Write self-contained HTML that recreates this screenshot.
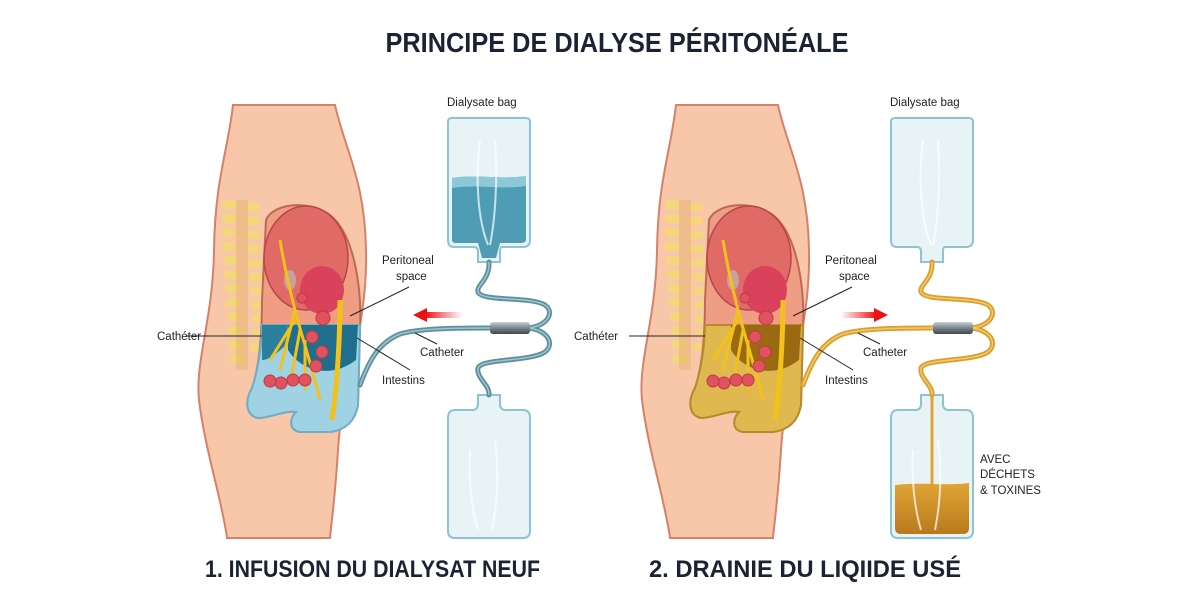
<!DOCTYPE html>
<html><head><meta charset="utf-8"><style>
html,body{margin:0;padding:0;background:#fff;}
svg{display:block;}
text{font-family:"Liberation Sans",sans-serif;}
</style></head><body>
<svg width="1200" height="600" viewBox="0 0 1200 600" xmlns="http://www.w3.org/2000/svg">
<defs>
<linearGradient id="redL" x1="1" x2="0"><stop offset="0" stop-color="#e22" stop-opacity="0"/><stop offset="1" stop-color="#e11"/></linearGradient>
<linearGradient id="redR" x1="0" x2="1"><stop offset="0" stop-color="#e22" stop-opacity="0"/><stop offset="1" stop-color="#e11"/></linearGradient>
<linearGradient id="conn" x1="0" y1="0" x2="0" y2="1"><stop offset="0" stop-color="#c8d0d4"/><stop offset="0.5" stop-color="#7a868c"/><stop offset="1" stop-color="#3d474c"/></linearGradient>
<linearGradient id="brown" x1="0" y1="0" x2="0" y2="1"><stop offset="0" stop-color="#e0a536"/><stop offset="1" stop-color="#b87a1c"/></linearGradient>
</defs>
<rect width="1200" height="600" fill="#fff"/>
<text x="617" y="52" font-size="28" font-weight="bold" fill="#1b2233" text-anchor="middle" textLength="463" lengthAdjust="spacingAndGlyphs">PRINCIPE DE DIALYSE PÉRITONÉALE</text>

<!-- ============ LEFT PANEL ============ -->
<g>
<path d="M233,105 L335,105 C345,150 365,180 366,250 C368,330 342,380 338,450 C335,500 331,525 330,538 L227,538 C222,500 205,450 199,400 C195,360 213,320 214,250 C215,180 228,150 233,105 Z" fill="#f8c6a8" stroke="#d4826a" stroke-width="2"/>
<g fill="#f3d77a">
<rect x="222" y="200" width="14" height="9" rx="3"/><rect x="222" y="214" width="14" height="9" rx="3"/><rect x="222" y="228" width="14" height="9" rx="3"/><rect x="222" y="242" width="14" height="9" rx="3"/><rect x="223" y="256" width="14" height="9" rx="3"/><rect x="224" y="270" width="14" height="9" rx="3"/><rect x="225" y="284" width="14" height="9" rx="3"/><rect x="226" y="298" width="14" height="9" rx="3"/><rect x="227" y="312" width="14" height="9" rx="3"/><rect x="228" y="326" width="14" height="9" rx="3"/><rect x="229" y="340" width="14" height="9" rx="3"/><rect x="230" y="354" width="14" height="9" rx="3"/>
<rect x="246" y="203" width="14" height="8" rx="3"/><rect x="246" y="217" width="14" height="8" rx="3"/><rect x="247" y="231" width="14" height="8" rx="3"/><rect x="247" y="245" width="14" height="8" rx="3"/><rect x="248" y="259" width="14" height="8" rx="3"/><rect x="249" y="273" width="14" height="8" rx="3"/><rect x="250" y="287" width="14" height="8" rx="3"/><rect x="251" y="301" width="14" height="8" rx="3"/><rect x="252" y="315" width="14" height="8" rx="3"/><rect x="252" y="329" width="14" height="8" rx="3"/><rect x="250" y="343" width="12" height="8" rx="3"/>
</g>
<rect x="236" y="200" width="12" height="170" fill="#e6b46a" opacity="0.5"/>
<path d="M266,220 C272,205 305,198 330,215 C355,235 362,290 360,330 L358,405 C355,422 345,430 330,432 L300,432 C288,430 290,418 296,412 C285,410 270,418 258,418 C245,415 245,400 252,388 C260,365 262,330 262,300 Z" fill="#ef9e83" stroke="#c06858" stroke-width="2"/>
<path d="M262,325 L360,325 L358,405 C355,422 345,430 330,432 L300,432 C288,430 290,418 296,412 C285,410 270,418 258,418 C245,415 245,400 252,388 C258,370 262,345 262,325 Z" fill="#9fd3e4" stroke="#6ab0c8" stroke-width="2"/>
<path d="M288,325 L358,325 L356,360 C330,380 300,370 288,350 Z" fill="#1f6f8c"/>
<path d="M262,325 L288,325 L286,345 C275,355 268,360 262,360 Z" fill="#2a7f9c"/>
<ellipse cx="306" cy="258" rx="42" ry="52" fill="#e06a66" stroke="#b5484a" stroke-width="1.5"/>
<ellipse cx="322" cy="290" rx="22" ry="24" fill="#d9425a"/>
<ellipse cx="290" cy="280" rx="6" ry="10" fill="#c8a0a0"/>
<g fill="none" stroke="#f2c21a" stroke-width="3">
<path d="M280,240 C285,270 290,290 295,310 C300,330 310,360 320,400"/>
<path d="M295,310 L280,370 M300,330 L290,385 M305,340 L305,390 M295,320 L270,360"/>
<path d="M340,300 C340,330 338,380 332,420" stroke-width="5"/>
</g>
<g fill="#e0525e" stroke="#c03848" stroke-width="1">
<circle cx="323" cy="318" r="7"/><circle cx="312" cy="337" r="6"/><circle cx="322" cy="352" r="6"/><circle cx="316" cy="366" r="6"/><circle cx="305" cy="380" r="6"/><circle cx="293" cy="380" r="6"/><circle cx="281" cy="383" r="6"/><circle cx="270" cy="381" r="6"/><circle cx="302" cy="298" r="5"/>
</g>
<!-- bags -->
<g fill="#e8f3f6" stroke="#8cc4d4" stroke-width="2">
<path d="M452,118 L526,118 Q530,118 530,122 L530,240 Q530,247 523,247 L502,247 Q500,247 500,252 L500,262 L478,262 L478,252 Q478,247 474,247 L454,247 Q448,247 448,240 L448,122 Q448,118 452,118 Z"/>
<path d="M478,395 L500,395 L500,404 Q500,410 506,410 L523,410 Q530,410 530,418 L530,531 Q530,538 523,538 L455,538 Q448,538 448,531 L448,418 Q448,410 455,410 L472,410 Q478,410 478,404 Z"/>
</g>
<path d="M452,178 C480,174 500,180 526,176 L526,240 Q526,243 520,243 L500,243 L496,258 L482,258 L478,243 L456,243 Q452,243 452,240 Z" fill="#4e9db5"/>
<path d="M452,178 C480,174 500,180 526,176 L526,186 C500,190 480,184 452,188 Z" fill="#8cc8d8"/>
<g stroke="#fff" stroke-width="2" fill="none" opacity="0.7">
<path d="M480,140 C475,180 478,220 488,245"/><path d="M495,140 C498,180 495,220 490,245"/><path d="M470,450 C468,480 472,510 478,530"/><path d="M495,440 C500,480 496,510 492,530"/>
</g>
<g fill="none" stroke="#5f8f9c" stroke-width="5" stroke-linecap="round">
<path d="M489,262 C490,280 476,285 478,292 C482,302 530,296 545,305 C555,312 548,326 528,328"/>
<path d="M528,328 C548,330 555,344 545,352 C530,362 482,358 478,368 C476,378 490,385 489,395"/>
<path d="M490,328 C460,328 420,328 400,334 C380,342 370,358 360,385"/>
</g>
<g fill="none" stroke="#9cc6d2" stroke-width="1.5">
<path d="M489,262 C490,280 476,285 478,292 C482,302 530,296 545,305 C555,312 548,326 528,328"/>
<path d="M528,328 C548,330 555,344 545,352 C530,362 482,358 478,368 C476,378 490,385 489,395"/>
<path d="M490,328 C460,328 420,328 400,334 C380,342 370,358 360,385"/>
</g>
<rect x="490" y="322" width="40" height="12" rx="3" fill="url(#conn)"/>
<rect x="425" y="312" width="38" height="6" fill="url(#redL)"/>
<path d="M413,315 L427,308 L427,322 Z" fill="#e11"/>
<g stroke="#222" stroke-width="1">
<line x1="186" y1="336" x2="262" y2="336"/>
<line x1="350" y1="316" x2="409" y2="287"/>
<line x1="357" y1="338" x2="410" y2="370"/>
<line x1="415" y1="333" x2="437" y2="344"/>
</g>
<g font-size="11.5" fill="#222">
<text x="157" y="340">Cathéter</text>
<text x="382" y="264">Peritoneal</text>
<text x="396" y="280">space</text>
<text x="420" y="356">Catheter</text>
<text x="382" y="384">Intestins</text>
<text x="447" y="106">Dialysate bag</text>
</g>
<text x="205" y="577" font-size="24" font-weight="bold" fill="#1b2233" textLength="335" lengthAdjust="spacingAndGlyphs">1. INFUSION DU DIALYSAT NEUF</text>
</g>

<!-- ============ RIGHT PANEL ============ -->
<g transform="translate(443,0)">
<path d="M233,105 L335,105 C345,150 365,180 366,250 C368,330 342,380 338,450 C335,500 331,525 330,538 L227,538 C222,500 205,450 199,400 C195,360 213,320 214,250 C215,180 228,150 233,105 Z" fill="#f8c6a8" stroke="#d4826a" stroke-width="2"/>
<g fill="#f3d77a">
<rect x="222" y="200" width="14" height="9" rx="3"/><rect x="222" y="214" width="14" height="9" rx="3"/><rect x="222" y="228" width="14" height="9" rx="3"/><rect x="222" y="242" width="14" height="9" rx="3"/><rect x="223" y="256" width="14" height="9" rx="3"/><rect x="224" y="270" width="14" height="9" rx="3"/><rect x="225" y="284" width="14" height="9" rx="3"/><rect x="226" y="298" width="14" height="9" rx="3"/><rect x="227" y="312" width="14" height="9" rx="3"/><rect x="228" y="326" width="14" height="9" rx="3"/><rect x="229" y="340" width="14" height="9" rx="3"/><rect x="230" y="354" width="14" height="9" rx="3"/>
<rect x="246" y="203" width="14" height="8" rx="3"/><rect x="246" y="217" width="14" height="8" rx="3"/><rect x="247" y="231" width="14" height="8" rx="3"/><rect x="247" y="245" width="14" height="8" rx="3"/><rect x="248" y="259" width="14" height="8" rx="3"/><rect x="249" y="273" width="14" height="8" rx="3"/><rect x="250" y="287" width="14" height="8" rx="3"/><rect x="251" y="301" width="14" height="8" rx="3"/><rect x="252" y="315" width="14" height="8" rx="3"/><rect x="252" y="329" width="14" height="8" rx="3"/><rect x="250" y="343" width="12" height="8" rx="3"/>
</g>
<rect x="236" y="200" width="12" height="170" fill="#e6b46a" opacity="0.5"/>
<path d="M266,220 C272,205 305,198 330,215 C355,235 362,290 360,330 L358,405 C355,422 345,430 330,432 L300,432 C288,430 290,418 296,412 C285,410 270,418 258,418 C245,415 245,400 252,388 C260,365 262,330 262,300 Z" fill="#ef9e83" stroke="#c06858" stroke-width="2"/>
<path d="M262,325 L360,325 L358,405 C355,422 345,430 330,432 L300,432 C288,430 290,418 296,412 C285,410 270,418 258,418 C245,415 245,400 252,388 C258,370 262,345 262,325 Z" fill="#e0b850" stroke="#b88a2a" stroke-width="2"/>
<path d="M288,325 L358,325 L356,360 C330,380 300,370 288,350 Z" fill="#9a6a12"/>
<ellipse cx="306" cy="258" rx="42" ry="52" fill="#e06a66" stroke="#b5484a" stroke-width="1.5"/>
<ellipse cx="322" cy="290" rx="22" ry="24" fill="#d9425a"/>
<ellipse cx="290" cy="280" rx="6" ry="10" fill="#c8a0a0"/>
<g fill="none" stroke="#f2c21a" stroke-width="3">
<path d="M280,240 C285,270 290,290 295,310 C300,330 310,360 320,400"/>
<path d="M295,310 L280,370 M300,330 L290,385 M305,340 L305,390 M295,320 L270,360"/>
<path d="M340,300 C340,330 338,380 332,420" stroke-width="5"/>
</g>
<g fill="#e0525e" stroke="#c03848" stroke-width="1">
<circle cx="323" cy="318" r="7"/><circle cx="312" cy="337" r="6"/><circle cx="322" cy="352" r="6"/><circle cx="316" cy="366" r="6"/><circle cx="305" cy="380" r="6"/><circle cx="293" cy="380" r="6"/><circle cx="281" cy="383" r="6"/><circle cx="270" cy="381" r="6"/><circle cx="302" cy="298" r="5"/>
</g>
<g fill="#e8f3f6" stroke="#8cc4d4" stroke-width="2">
<path d="M452,118 L526,118 Q530,118 530,122 L530,240 Q530,247 523,247 L502,247 Q500,247 500,252 L500,262 L478,262 L478,252 Q478,247 474,247 L454,247 Q448,247 448,240 L448,122 Q448,118 452,118 Z"/>
<path d="M478,395 L500,395 L500,404 Q500,410 506,410 L523,410 Q530,410 530,418 L530,531 Q530,538 523,538 L455,538 Q448,538 448,531 L448,418 Q448,410 455,410 L472,410 Q478,410 478,404 Z"/>
</g>
<path d="M452,485 C480,482 500,486 526,483 L526,528 Q526,534 520,534 L458,534 Q452,534 452,528 Z" fill="url(#brown)"/>
<line x1="489" y1="395" x2="489" y2="485" stroke="#e0a536" stroke-width="3"/>
<g stroke="#fff" stroke-width="2" fill="none" opacity="0.7">
<path d="M480,140 C475,180 478,220 488,245"/><path d="M495,140 C498,180 495,220 490,245"/><path d="M470,450 C468,480 472,510 478,530"/><path d="M495,440 C500,480 496,510 492,530"/>
</g>
<g fill="none" stroke="#d9a030" stroke-width="5" stroke-linecap="round">
<path d="M489,262 C490,280 476,285 478,292 C482,302 530,296 545,305 C555,312 548,326 528,328"/>
<path d="M528,328 C548,330 555,344 545,352 C530,362 482,358 478,368 C476,378 490,385 489,395"/>
<path d="M490,328 C460,328 420,328 400,334 C380,342 370,358 360,385"/>
</g>
<g fill="none" stroke="#f2c96a" stroke-width="1.5">
<path d="M489,262 C490,280 476,285 478,292 C482,302 530,296 545,305 C555,312 548,326 528,328"/>
<path d="M528,328 C548,330 555,344 545,352 C530,362 482,358 478,368 C476,378 490,385 489,395"/>
<path d="M490,328 C460,328 420,328 400,334 C380,342 370,358 360,385"/>
</g>
<rect x="490" y="322" width="40" height="12" rx="3" fill="url(#conn)"/>
<rect x="397" y="312" width="36" height="6" fill="url(#redR)"/>
<path d="M445,315 L431,308 L431,322 Z" fill="#e11"/>
<g stroke="#222" stroke-width="1">
<line x1="186" y1="336" x2="262" y2="336"/>
<line x1="350" y1="316" x2="409" y2="287"/>
<line x1="357" y1="338" x2="410" y2="370"/>
<line x1="415" y1="333" x2="437" y2="344"/>
</g>
<g font-size="11.5" fill="#222">
<text x="131" y="340">Cathéter</text>
<text x="382" y="264">Peritoneal</text>
<text x="396" y="280">space</text>
<text x="420" y="356">Catheter</text>
<text x="382" y="384">Intestins</text>
<text x="447" y="106">Dialysate bag</text>
<text x="537" y="463">AVEC</text>
<text x="537" y="478">DÉCHETS</text>
<text x="537" y="494">&amp; TOXINES</text>
</g>
<text x="206" y="577" font-size="24" font-weight="bold" fill="#1b2233" textLength="312" lengthAdjust="spacingAndGlyphs">2. DRAINIE DU LIQIIDE USÉ</text>
</g>
</svg>
</body></html>
